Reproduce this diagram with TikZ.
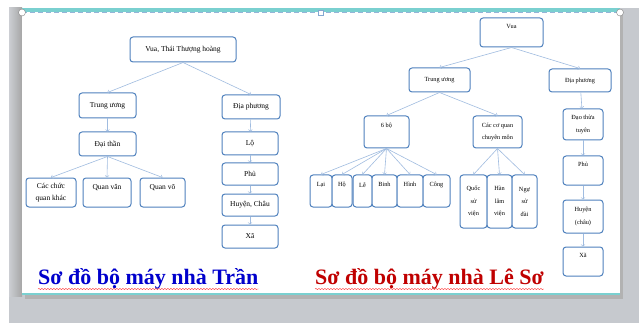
\documentclass[tikz,border=0pt]{standalone}
\usepackage{fontspec}
\setmainfont{Liberation Serif}
\usetikzlibrary{shapes,decorations.pathmorphing}
\definecolor{boxblue}{RGB}{79,129,189}
\definecolor{linkblue}{RGB}{160,188,224}
\definecolor{slidegray}{RGB}{198,201,206}
\definecolor{bartea}{RGB}{122,208,208}
\definecolor{titleblue}{RGB}{0,0,204}
\definecolor{titlered}{RGB}{192,0,0}

\begin{document}
\begin{tikzpicture}[x=1pt,y=-1pt]
\tikzstyle{box}=[draw=boxblue,line width=1pt,rounded corners=3pt,fill=white,align=center,inner sep=1pt,font=\fontsize{7.5}{11.5}\selectfont]
\tikzstyle{boxR}=[box,font=\fontsize{6.3}{12.5}\selectfont]
\tikzstyle{link}=[draw=linkblue,line width=0.6pt,->]
\tikzstyle{title}=[font=\fontsize{22}{25}\selectfont\bfseries,anchor=base west,inner sep=0pt]
\tikzstyle{squiggle}=[draw=red!80,line width=0.4pt,decorate,decoration={snake,amplitude=0.6pt,segment length=3pt}]

% slide frame
\useasboundingbox (0,0) rectangle (639,323);
\fill[slidegray] (9,8) rectangle (639,323);
\shade[left color=slidegray!90,right color=black!35] (9,8) rectangle (22,296);
\fill[black!30] (25,15) rectangle (623,299);
\fill[white] (22,10) rectangle (620,295);
\fill[bartea] (22,8) rectangle (620,12);
\fill[bartea] (22,293) rectangle (620,295);
\draw[white,line width=1pt] (22,12.5) -- (620,12.5);
\draw[boxblue!60,line width=1pt,dash pattern=on 5pt off 3pt] (22,12.5) -- (620,12.5);
\draw[gray,fill=white] (22,12.5) circle (3.5);
\draw[gray,fill=white] (620,12.5) circle (3.5);
\draw[boxblue!70,fill=white] (318.5,10.5) rectangle (323.5,15.5);

% nha Tran
\node[box,minimum width=106pt,minimum height=25pt] (vuaT) at (183,49.5) {Vua, Thái Thượng hoàng};
\node[box,minimum width=57pt,minimum height=25pt] (tuT) at (107.5,105.5) {Trung ương};
\node[box,minimum width=58pt,minimum height=24pt] (dpT) at (251,107) {Địa phương};
\node[box,minimum width=57pt,minimum height=24pt] (dtT) at (107.5,144) {Đại thần};
\node[box,minimum width=50pt,minimum height=29pt] (khacT) at (51,192.5) {Các chức\\quan khác};
\node[box,minimum width=48pt,minimum height=29pt] (vanT) at (107,192.5) {Quan văn\\~};
\node[box,minimum width=45pt,minimum height=29pt] (voT) at (162.5,192.5) {Quan võ\\~};
\node[box,minimum width=56pt,minimum height=23pt] (loT) at (250,143.5) {Lộ};
\node[box,minimum width=56pt,minimum height=22pt] (phuT) at (250,174) {Phủ};
\node[box,minimum width=56pt,minimum height=22pt] (huyenT) at (250,205) {Huyện, Châu};
\node[box,minimum width=56pt,minimum height=23pt] (xaT) at (250,236.5) {Xã};

\draw[link] (vuaT.south) -- (tuT.north);
\draw[link] (vuaT.south) -- (dpT.north);
\draw[link] (tuT) -- (dtT);
\foreach \n in {khacT,vanT,voT}
  \draw[link] (dtT.south) -- (\n.north);
\draw[link] (dpT) -- (loT);
\draw[link] (loT) -- (phuT);
\draw[link] (phuT) -- (huyenT);
\draw[link] (huyenT) -- (xaT);

% nha Le So
\node[boxR,minimum width=63pt,minimum height=29pt] (vuaL) at (511.5,32.5) {Vua\\~};
\node[boxR,minimum width=61pt,minimum height=24pt] (tuL) at (439.5,80) {Trung ương};
\node[boxR,minimum width=62pt,minimum height=23pt] (dpL) at (580,80.5) {Địa phương};
\node[boxR,minimum width=45pt,minimum height=32pt] (lbL) at (386.5,132) {6 bộ\\~};
\node[boxR,minimum width=49pt,minimum height=32pt] (cqL) at (497.5,132) {Các cơ quan\\chuyên môn};
\node[boxR,minimum width=40pt,minimum height=31pt] (dtL) at (583,124.5) {Đạo thừa\\tuyên};
\node[boxR,minimum width=40pt,minimum height=29pt] (phuL) at (583,170.5) {Phủ\\~};
\node[boxR,minimum width=40pt,minimum height=33pt] (huyenL) at (583,216.5) {Huyện\\(châu)};
\node[boxR,minimum width=40pt,minimum height=29pt] (xaL) at (583,261.5) {Xã\\~};
\foreach \n/\x/\w/\t in {laiL/321/22/Lại,hoL/342/20/Hộ,leL/362.5/19/Lễ,binhL/384.5/25/Binh,hinhL/410/26/Hình,congL/436.5/27/Công}{
  \node[boxR,minimum width=\w pt,minimum height=32pt] (\n) at (\x,191) {\t\\~};
  \draw[link] (lbL.south) -- (\n.north);
}
\foreach \n/\x/\w/\t in {qsvL/473.5/27/Quốc\\sử\\viện,hlvL/499.5/25/Hàn\\lâm\\viện,nsdL/524.5/25/Ngự\\sử\\đài}{
  \node[boxR,minimum width=\w pt,minimum height=53pt] (\n) at (\x,201.5) {\t};
  \draw[link] (cqL.south) -- (\n.north);
}

\draw[link] (vuaL.south) -- (tuL.north);
\draw[link] (vuaL.south) -- (dpL.north);
\draw[link] (tuL.south) -- (lbL.north);
\draw[link] (tuL.south) -- (cqL.north);
\draw[link] (dpL) -- (dtL);
\draw[link] (dtL) -- (phuL);
\draw[link] (phuL) -- (huyenL);
\draw[link] (huyenL) -- (xaL);

% titles
\node[title,text=titleblue] (tranTitle) at (38,284) {Sơ đồ bộ máy nhà Trần};
\node[title,text=titlered] (leTitle) at (315,284) {Sơ đồ bộ máy nhà Lê Sơ};
\draw[squiggle] ([yshift=-5pt]tranTitle.base west) -- ([yshift=-5pt]tranTitle.base east);
\draw[squiggle] ([yshift=-5pt]leTitle.base west) -- ([yshift=-5pt]leTitle.base east);
\end{tikzpicture}
\end{document}
